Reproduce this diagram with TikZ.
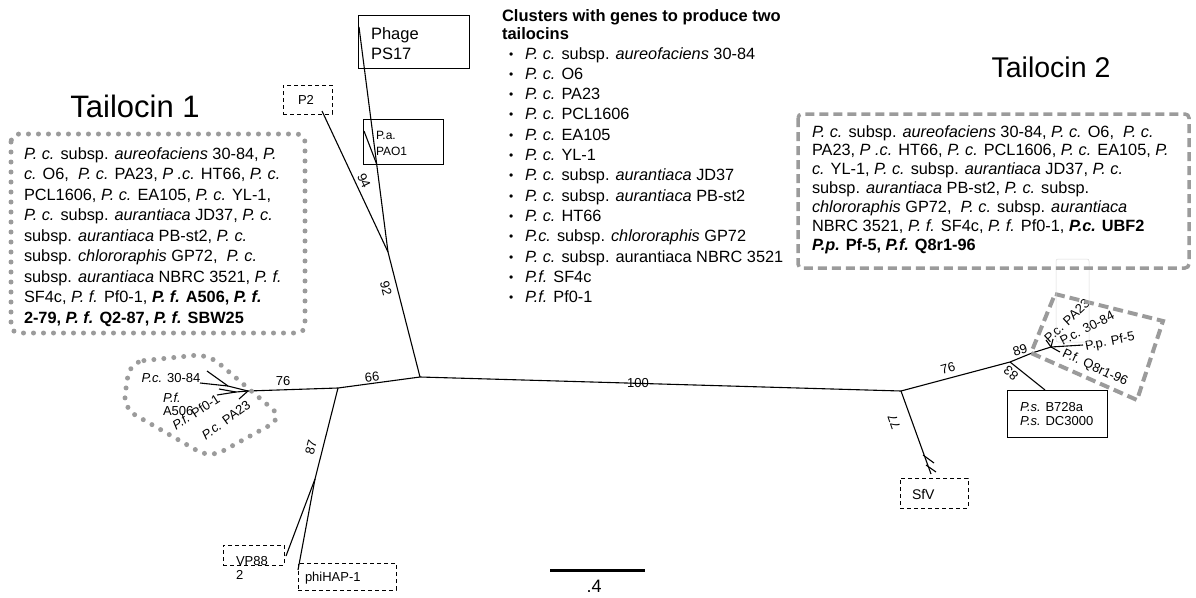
\documentclass[tikz,border=0pt]{standalone}
\usepackage{fontspec}
\setmainfont{Liberation Sans}
\definecolor{dotgray}{RGB}{155,155,155}
\begin{document}
\begin{tikzpicture}[x=1pt,y=-1pt,
  every node/.style={inner sep=0pt, outer sep=0pt},
  branch/.style={draw=black, line width=1.1pt},
  numlbl/.style={font=\fontsize{13}{15}\selectfont},
  taxlbl/.style={font=\fontsize{13}{14.5}\selectfont},
  bodytxt/.style={font=\fontsize{16.3}{20}\selectfont, anchor=base west},
  titletxt/.style={font=\fontsize{28.5}{32}\selectfont},
  solidbox/.style={draw=black, line width=0.9pt, anchor=north west},
  dashbox/.style={draw=black, line width=0.9pt, dash pattern=on 4pt off 3pt, anchor=north west},
  dotframe/.style={draw=dotgray, line width=5pt, line cap=round, dash pattern=on 0pt off 10pt},
  dashframe/.style={draw=dotgray, line width=4pt, dash pattern=on 10pt off 5pt},
]
\useasboundingbox (0,0) rectangle (1196,597);

% ---------- boxes around tips ----------
\node[solidbox, minimum width=111pt, minimum height=53pt] (ps17) at (358,15) {};
\node[anchor=base west, font=\fontsize{16.5}{20}\selectfont] (ps17a) at (371,39) {Phage};
\node[anchor=base west, font=\fontsize{16.5}{20}\selectfont] (ps17b) at (371,59) {PS17};
\node[dashbox, minimum width=49pt, minimum height=29pt] (p2box) at (283,85) {};
\node[font=\fontsize{13}{15}\selectfont] (p2) at (306,100) {P2};
\node[solidbox, minimum width=80pt, minimum height=45pt] (paobox) at (363,119) {};
\node[anchor=base west, font=\fontsize{12}{14}\selectfont] (pa) at (376,139.5) {P.a.};
\node[anchor=base west, font=\fontsize{12}{14}\selectfont] (pao) at (376,155.5) {PAO1};
\node[dashbox, minimum width=61pt, minimum height=20pt] (vpbox) at (223,545) {};
\node[anchor=base west, font=\fontsize{13}{15}\selectfont] (vp) at (236,565.5) {VP88};
\node[anchor=base west, font=\fontsize{13}{15}\selectfont] (vp2) at (236,579.5) {2};
\node[dashbox, minimum width=98pt, minimum height=27pt] (hapbox) at (298,563) {};
\node[anchor=west, font=\fontsize{13}{15}\selectfont] (hap) at (305,578) {phiHAP-1};
\node[dashbox, minimum width=68pt, minimum height=30pt] (sfvbox) at (900,478) {};
\node[anchor=west, font=\fontsize{14}{16}\selectfont] (sfv) at (912,494) {SfV};
\node[solidbox, minimum width=100pt, minimum height=47pt] (psbox) at (1007,390) {};
\node[anchor=base west, taxlbl] (ps1) at (1020,411.5) {\textit{P.s.} B728a};
\node[anchor=base west, taxlbl] (ps2) at (1020,425.5) {\textit{P.s.} DC3000};

% ---------- tree coordinates ----------
\coordinate (C) at (420,377);
\coordinate (R) at (901,391);
\coordinate (L1) at (338,388);
\coordinate (L2) at (248,391);
\coordinate (M1) at (228,386);
\coordinate (M2) at (236,392);
\coordinate (N87) at (315,479);
\coordinate (tVP) at (286,556);
\coordinate (tHAP) at (298,570);
\coordinate (U) at (388,252);
\coordinate (tP2) at (322,111);
\coordinate (tPS) at (359,27);
\coordinate (jPA) at (377,165);
\coordinate (tPA) at (364,131);
\coordinate (A) at (1010,362);
\coordinate (B) at (1032,353);
\coordinate (F) at (1051,347);
\coordinate (tPf5) at (1083,345);
\coordinate (tPA23) at (1046,340);
\coordinate (t3084) at (1053,339);
\coordinate (tQ8) at (1060,352);
\coordinate (tPs) at (1045,390);
\coordinate (S77) at (931,474);
\coordinate (Sa) at (923,455);
\coordinate (Sa2) at (934,463);
\coordinate (Sb) at (926,465);
\coordinate (Sb2) at (936,472);

% ---------- branches ----------
\draw[branch] (L2) -- (L1) -- (C) -- (R);
\draw[branch] (L1) -- (N87) -- (tVP);
\draw[branch] (N87) -- (tHAP);
\draw[branch] (C) -- (U) -- (tP2);
\draw[branch] (U) -- (tPS);
\draw[branch] (jPA) -- (tPA);
\draw[branch] (R) -- (A) -- (B) -- (F) -- (tPf5);
\draw[branch] (F) -- (tPA23);
\draw[branch] (F) -- (t3084);
\draw[branch] (F) -- (tQ8);
\draw[branch] (A) -- (tPs);
\draw[branch] (R) -- (S77);
\draw[branch] (Sa) -- (Sa2);
\draw[branch] (Sb) -- (Sb2);
\draw[branch] (L2) -- (M1) -- (207,371);
\draw[branch] (M1) -- (200,383);
\draw[branch] (L2) -- (M2) -- (219,389);
\draw[branch] (M2) -- (217,395);
\draw[branch] (L2) -- (239,399);

% ---------- support values ----------
\node[numlbl] (n100) at (638,383) {100};
\node[numlbl, rotate=7] (n66) at (372,377) {66};
\node[numlbl] (n76a) at (283,381) {76};
\node[numlbl, rotate=76] (n87) at (311,447) {87};
\node[numlbl, rotate=-76] (n92) at (386,288) {92};
\node[numlbl, rotate=-64] (n94) at (364,181) {94};
\node[numlbl, rotate=15] (n76b) at (948,368) {76};
\node[numlbl, rotate=18] (n89) at (1020,350) {89};
\node[numlbl, rotate=141] (n83) at (1011,373) {83};
\node[numlbl, rotate=109] (n77) at (894,422) {77};

% ---------- tip labels ----------
\node[taxlbl] (lc3084) at (171,378) {\textit{P.c.} 30-84};
\node[taxlbl, anchor=west] (lpf) at (163,398) {\textit{P.f.}};
\node[taxlbl, anchor=west] (la506) at (163,411) {A506};
\node[taxlbl, rotate=33] (lpf01) at (196,412) {\textit{P.f.} Pf0-1};
\node[taxlbl, rotate=36] (lpa23) at (226,420) {\textit{P.c.} PA23};
\node[taxlbl, rotate=43] (rpa23) at (1067,321) {P.c. PA23};
\node[taxlbl, rotate=27] (r3084) at (1087,328) {P.c. 30-84};
\node[taxlbl, rotate=11] (rpf5) at (1110,342) {P.p. Pf-5};
\node[taxlbl, rotate=-25] (rq8) at (1095,368) {P.f. Q8r1-96};

% ---------- cluster outlines ----------
\draw[dotframe, rounded corners=14pt] (130,362) -- (208,354) -- (283,418) -- (210,458) -- (123,408) -- cycle;
\draw[dashframe] (1055,294) -- (1163,321) -- (1137,400) -- (1031,353) -- cycle;
\draw[gray!30, line width=0.5pt, rounded corners=2pt] (1056,259) rectangle (1089,342);

% ---------- Tailocin 1 ----------
\node[font=\fontsize{31}{34}\selectfont] (t1) at (135,106) {Tailocin 1};
\draw[dotframe, rounded corners=8pt] (11,134) rectangle (305,333);
\foreach \txt [count=\i from 0] in {
 {\textit{P. c.} subsp. \textit{aureofaciens} 30-84, \textit{P.}},
 {\textit{c.} O6,~ \textit{P. c.} PA23, \textit{P .c.} HT66, \textit{P. c.}},
 {PCL1606, \textit{P. c.} EA105, \textit{P. c.} YL-1,},
 {\textit{P. c.} subsp. \textit{aurantiaca} JD37, \textit{P. c.}},
 {subsp. \textit{aurantiaca} PB-st2, \textit{P. c.}},
 {subsp. \textit{chlororaphis} GP72,~ \textit{P. c.}},
 {subsp. \textit{aurantiaca} NBRC 3521, \textit{P. f.}},
 {SF4c, \textit{P. f.} Pf0-1, \textbf{\textit{P. f.} A506, \textit{P. f.}}},
 {\textbf{2-79, \textit{P. f.} Q2-87, \textit{P. f.} SBW25}}
}{\node[bodytxt] at (24,{159+20.5*\i}) {\txt};}

% ---------- Tailocin 2 ----------
\node[titletxt] (t2) at (1051,67) {Tailocin 2};
\draw[draw=dotgray, line width=3.5pt, dash pattern=on 9pt off 5pt, rounded corners=4pt] (798,114) rectangle (1189,268);
\foreach \txt [count=\i from 0] in {
 {\textit{P. c.} subsp. \textit{aureofaciens} 30-84, \textit{P. c.} O6,~ \textit{P. c.}},
 {PA23, \textit{P .c.} HT66, \textit{P. c.} PCL1606, \textit{P. c.} EA105, \textit{P.}},
 {\textit{c.} YL-1, \textit{P. c.} subsp. \textit{aurantiaca} JD37, \textit{P. c.}},
 {subsp. \textit{aurantiaca} PB-st2, \textit{P. c.} subsp.},
 {\textit{chlororaphis} GP72,~ \textit{P. c.} subsp. \textit{aurantiaca}},
 {NBRC 3521, \textit{P. f.} SF4c, \textit{P. f.} Pf0-1, \textbf{\textit{P.c.} UBF2}},
 {\textbf{\textit{P.p.} Pf-5, \textit{P.f.} Q8r1-96}}
}{\node[bodytxt] at (812,{137+18.9*\i}) {\txt};}

% ---------- cluster list ----------
\node[anchor=base west, font=\bfseries\fontsize{16.5}{18}\selectfont] (cl1) at (502,21) {Clusters with genes to produce two};
\node[anchor=base west, font=\bfseries\fontsize{16.5}{18}\selectfont] (cl2) at (502,39) {tailocins};
\foreach \txt [count=\i from 0] in {
 {\textit{P. c.} subsp. \textit{aureofaciens} 30-84},
 {\textit{P. c.} O6},
 {\textit{P. c.} PA23},
 {\textit{P. c.} PCL1606},
 {\textit{P. c.} EA105},
 {\textit{P. c.} YL-1},
 {\textit{P. c.} subsp. \textit{aurantiaca} JD37},
 {\textit{P. c.} subsp. \textit{aurantiaca} PB-st2},
 {\textit{P. c.} HT66},
 {\textit{P.c.} subsp. \textit{chlororaphis} GP72},
 {\textit{P. c.} subsp. aurantiaca NBRC 3521},
 {\textit{P.f.} SF4c},
 {\textit{P.f.} Pf0-1}
}{\node[anchor=base west, font=\fontsize{12}{14}\selectfont] at (509,{58+20.3*\i}) {\textbullet};
  \node[bodytxt] at (525,{59+20.3*\i}) {\txt};}

% ---------- scale bar ----------
\coordinate (sb1) at (550,570);
\coordinate (sb2) at (645,570);
\draw[line width=3pt] (sb1) -- (sb2);
\node[font=\fontsize{18}{20}\selectfont] (sbl) at (594,586) {.4};
\end{tikzpicture}
\end{document}
